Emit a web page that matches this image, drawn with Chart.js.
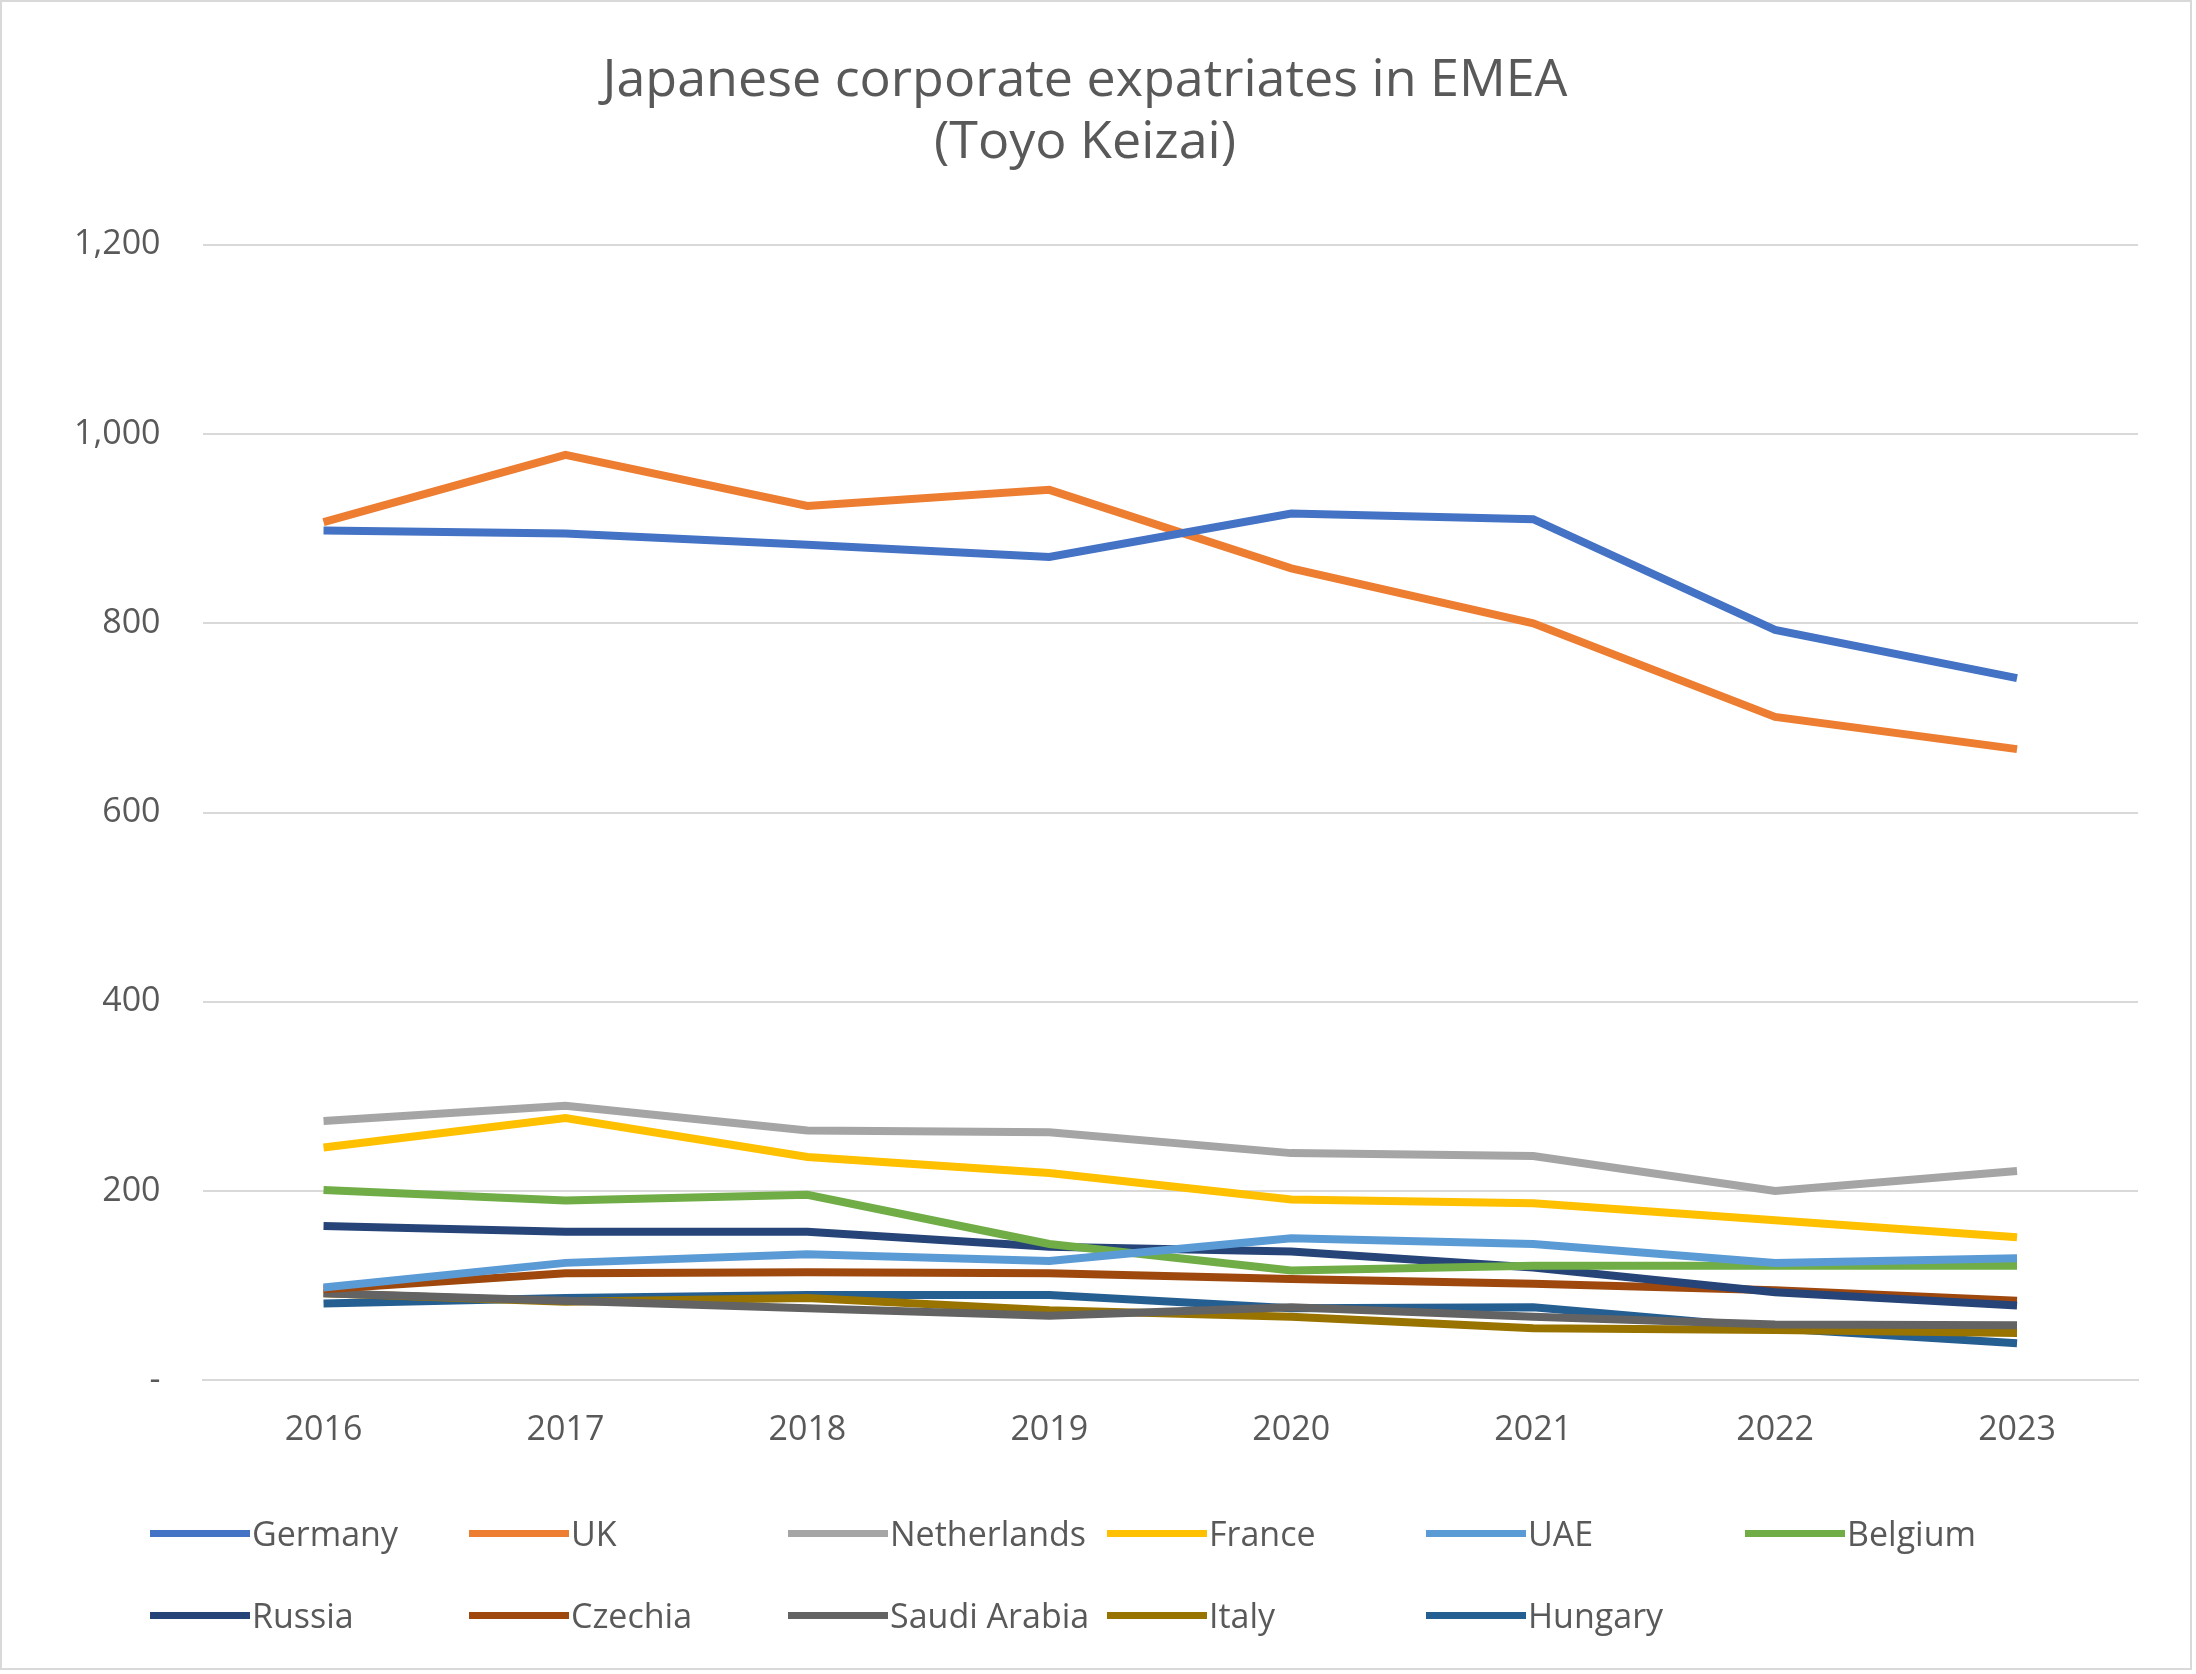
<!DOCTYPE html>
<html>
<head>
<meta charset="utf-8">
<script src="https://cdn.jsdelivr.net/npm/chart.js@4"></script>
<style>
  html, body { margin: 0; padding: 0; background: #fff; }
  #wrap { width: 2192px; height: 1670px; border: 2px solid #d9d9d9; box-sizing: border-box; position: relative; }
  canvas { display: block; }
  #legend { position: absolute; left: 148px; top: 1508px; width: 1950px; display: grid;
    grid-template-columns: repeat(6, 319px); row-gap: 36px;
    font-family: 'Open Sans', 'Noto Sans', sans-serif; font-size: 34px; color: #595959; }
  .item { display: flex; align-items: center; white-space: nowrap; }
  .sw { width: 100px; height: 7px; margin-right: 2px; }
</style>
</head>
<body>
<div id="wrap"><canvas id="c" width="2188" height="1666"></canvas><div id="legend"></div></div>
<script>
"use strict";

const years = ["2016", "2017", "2018", "2019", "2020", "2021", "2022", "2023"];

const germany     = [898, 895, 883, 870, 916, 910, 793, 742];
const uk          = [907, 978, 924, 941, 858, 800, 701, 667];
const netherlands = [274, 290, 264, 262, 240, 237, 200, 221];
const france      = [246, 277, 236, 219, 191, 187, 169, 151];
const uae         = [98, 124, 133, 126, 150, 144, 124, 129];
const belgium     = [201, 190, 196, 144, 116, 121, 121, 121];
const russia      = [163, 157, 157, 141, 136, 119, 93, 79];
const czechia     = [96, 113, 114, 113, 107, 102, 95, 84];
const saudiArabia = [92, 84, 76, 68, 77, 67, 59, 58];
const italy       = [92, 83, 87, 74, 67, 55, 53, 50];
const hungary     = [81, 87, 90, 90, 76, 77, 55, 39];

const series = [
  ["Germany", germany, "#4472c4"],
  ["UK", uk, "#ed7d31"],
  ["Netherlands", netherlands, "#a5a5a5"],
  ["France", france, "#ffc000"],
  ["UAE", uae, "#5b9bd5"],
  ["Belgium", belgium, "#70ad47"],
  ["Russia", russia, "#264478"],
  ["Czechia", czechia, "#9e480e"],
  ["Saudi Arabia", saudiArabia, "#636363"],
  ["Italy", italy, "#997300"],
  ["Hungary", hungary, "#255e91"],
];

const TXT = "#595959";
const FONT = "'Open Sans', 'Noto Sans', sans-serif";

// HTML legend in fixed columns, like the spreadsheet original
document.getElementById("legend").innerHTML = series.map(([label, , color]) =>
  `<div class="item"><div class="sw" style="background:${color}"></div>${label}</div>`).join("");

new Chart(document.getElementById("c"), {
  type: "line",
  data: {
    labels: years,
    datasets: series.map(([label, data, color]) => ({
      label, data, borderColor: color, backgroundColor: color,
      borderWidth: 8, pointRadius: 0, tension: 0,
    })),
  },
  options: {
    responsive: false, animation: false,
    layout: { padding: { left: 30, right: 52, top: 20, bottom: 195 } },
    plugins: {
      legend: { display: false },
      title: {
        display: true, text: ["Japanese corporate expatriates in EMEA", "(Toyo Keizai)"],
        color: TXT, font: { family: FONT, size: 52, weight: "normal" },
        padding: { top: 28, bottom: 70 }, lineHeight: 1.5,
      },
    },
    scales: {
      x: {
        offset: true,
        grid: { display: false },
        border: { color: "#d9d9d9", width: 2 },
        ticks: { color: TXT, font: { family: FONT, size: 34 }, padding: 22 },
      },
      y: {
        min: 0, max: 1200,
        border: { display: false },
        grid: { color: "#d9d9d9", lineWidth: 2, drawTicks: false },
        ticks: {
          stepSize: 200, color: TXT, font: { family: FONT, size: 34 }, padding: 42,
          callback: (v) => v === 0 ? "-" : v.toLocaleString("en-US"),
        },
      },
    },
  },
});
</script>
</body>
</html>
